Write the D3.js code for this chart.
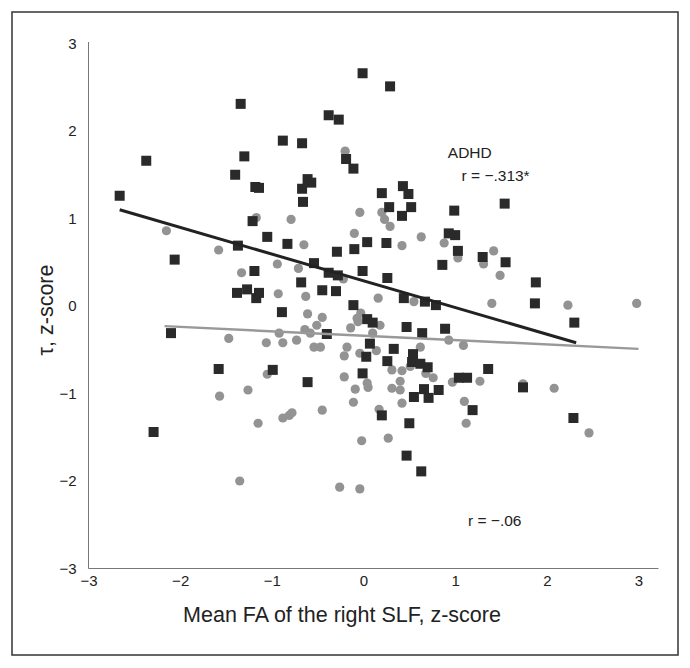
<!DOCTYPE html>
<html>
<head>
<meta charset="utf-8">
<script src="https://cdn.jsdelivr.net/npm/d3@7"></script>
<style>
  html, body { margin: 0; padding: 0; background: #fff; }
  svg text { font-family: Arial, "Liberation Sans", Helvetica, sans-serif; }
</style>
</head>
<body>
<svg id="chart" width="690" height="668"></svg>
<script>
// ADHD group (squares)
const adhdX = [-2.66,-2.37,-2.06,-2.10,-2.29,-1.58,-1.34,-1.30,-1.40,-1.18,-1.14,-1.21,-0.88,-0.67,-0.61,-0.57,-0.67,-0.66,-0.38,-0.27,
  -0.01,0.29,-0.19,-0.11,-1.37,-1.05,-0.83,-1.19,-0.54,-0.38,-0.28,-0.29,-0.10,0.04,-0.01,-1.38,-1.27,-1.14,-1.17,-0.68,
  -0.45,-0.30,-0.89,-0.99,-0.61,-0.40,-0.11,0.04,0.10,0.07,0.03,-0.01,0.20,0.43,0.49,0.28,0.52,0.42,0.99,1.54,
  0.25,0.93,1.00,1.03,0.86,1.30,1.55,0.26,1.88,1.87,2.30,0.44,0.67,0.79,0.47,0.64,0.89,0.33,0.26,0.54,
  0.53,0.62,0.70,1.04,1.13,1.36,1.74,0.66,0.82,0.55,0.71,0.20,0.50,1.19,2.29,0.47,0.63];
const adhdY = [1.26,1.66,0.53,-0.31,-1.44,-0.72,2.31,1.71,1.50,1.36,1.35,0.97,1.89,1.86,1.45,1.41,1.34,1.19,2.18,2.13,
  2.66,2.51,1.68,1.57,0.69,0.79,0.71,0.40,0.49,0.38,0.35,0.62,0.65,0.73,0.40,0.15,0.19,0.15,0.09,0.27,
  0.18,0.17,-0.07,-0.73,-0.87,-0.32,0.01,-0.15,-0.19,-0.43,-0.58,-0.77,1.29,1.37,1.28,1.13,1.13,1.03,1.09,1.17,
  0.72,0.83,0.81,0.63,0.47,0.56,0.50,0.32,0.27,0.03,-0.19,0.09,0.05,0.01,-0.24,-0.31,-0.26,-0.49,-0.63,-0.55,
  -0.64,-0.66,-0.70,-0.82,-0.82,-0.72,-0.93,-0.95,-0.96,-1.04,-1.05,-1.25,-1.34,-1.19,-1.28,-1.71,-1.89];

// Control group (circles)
const ctrlX = [-2.15,-1.58,-1.47,-1.57,-1.35,-1.17,-0.79,-0.65,-0.94,-0.71,-1.33,-0.20,-0.04,-0.10,-0.22,-0.93,-0.63,-0.61,-0.45,-0.51,
  -0.03,-0.07,-0.06,-0.14,-0.92,-0.64,-0.58,-1.06,-0.88,-0.73,-0.54,-0.47,-0.18,-0.21,-0.04,0.10,-1.05,-0.21,-0.09,0.04,
  0.05,-1.26,-0.11,-0.88,-0.81,-0.78,-0.45,-1.15,-0.02,-0.26,-0.04,0.20,0.23,0.29,0.42,0.63,0.88,1.03,1.31,1.42,
  1.49,0.16,0.55,1.40,2.23,2.98,0.18,1.74,2.08,2.46,0.14,0.62,0.93,1.09,0.31,0.42,0.40,0.31,0.40,0.42,
  0.17,0.68,0.76,0.97,1.27,1.10,1.12,0.27,0.51];
const ctrlY = [0.86,0.64,-0.37,-1.03,-2.00,1.01,0.99,0.70,0.48,0.43,0.38,1.77,1.07,0.83,0.31,0.14,0.11,-0.09,-0.13,-0.22,
  -0.08,-0.14,-0.18,-0.25,-0.31,-0.27,-0.31,-0.42,-0.42,-0.39,-0.47,-0.47,-0.47,-0.57,-0.54,-0.31,-0.78,-0.81,-0.95,-0.88,
  -0.93,-0.96,-1.10,-1.28,-1.25,-1.22,-1.19,-1.34,-1.54,-2.07,-2.09,1.07,0.99,0.91,0.69,0.79,0.72,0.55,0.48,0.63,
  0.35,0.09,0.05,0.03,0.01,0.03,-0.22,-0.89,-0.94,-1.45,-0.51,-0.47,-0.39,-0.45,-0.73,-0.74,-0.86,-0.94,-0.96,-1.11,
  -1.18,-0.77,-0.82,-0.87,-0.86,-1.09,-1.34,-1.51,-0.69];

// Trend lines (endpoints)
const adhdTrendX = [-2.66, 2.32];
const adhdTrendY = [1.10, -0.42];
const ctrlTrendX = [-2.17, 3.0];
const ctrlTrendY = [-0.23, -0.49];

const ticks = [-3, -2, -1, 0, 1, 2, 3];
const xTitle = "Mean FA of the right SLF, z-score";
const yTitle = "τ, z-score";
const labels = [
  {text: "ADHD", x: 0.92, y: 1.69},
  {text: "r = −.313*", x: 1.07, y: 1.43},
  {text: "r = −.06", x: 1.14, y: -2.51}
];

const svg = d3.select("#chart");

// outer frame
svg.append("rect").attr("x", 12).attr("y", 12).attr("width", 666).attr("height", 643)
  .attr("fill", "none").attr("stroke", "#333").attr("stroke-width", 1.5);

const x = d3.scaleLinear().domain([-3, 3]).range([88.5, 638.5]);
const y = d3.scaleLinear().domain([-3, 3]).range([568.5, 43.5]);
const fmt = d3.format("d");

// axes
const xAxis = d3.axisBottom(x).tickValues(ticks).tickFormat(fmt).tickSize(0).tickPadding(7);
const yAxis = d3.axisLeft(y).tickValues(ticks).tickFormat(fmt).tickSize(0).tickPadding(12);

const gx = svg.append("g").attr("transform", `translate(0,${y(-3)})`).call(xAxis);
gx.select(".domain").remove();
gx.selectAll("text").attr("font-size", 15).attr("fill", "#222");

const gy = svg.append("g").attr("transform", `translate(${x(-3)},0)`).call(yAxis);
gy.select(".domain").remove();
gy.selectAll("text").attr("font-size", 15).attr("fill", "#222");

svg.append("line").attr("x1", x(-3)).attr("x2", x(3) + 20).attr("y1", y(-3)).attr("y2", y(-3))
  .attr("stroke", "#777").attr("stroke-width", 1);
svg.append("line").attr("x1", x(-3)).attr("x2", x(-3)).attr("y1", y(-3)).attr("y2", y(3) - 1.5)
  .attr("stroke", "#777").attr("stroke-width", 1);

// circles (controls)
svg.append("g").selectAll("circle").data(ctrlX.map((d, i) => [d, ctrlY[i]])).join("circle")
  .attr("cx", d => x(d[0])).attr("cy", d => y(d[1])).attr("r", 4.6).attr("fill", "#939393");

// squares (ADHD)
const s = 10;
svg.append("g").selectAll("rect").data(adhdX.map((d, i) => [d, adhdY[i]])).join("rect")
  .attr("x", d => x(d[0]) - s / 2).attr("y", d => y(d[1]) - s / 2)
  .attr("width", s).attr("height", s).attr("fill", "#2a2a2a");

// trend lines
const line = d3.line().x(d => x(d[0])).y(d => y(d[1]));
svg.append("path").attr("d", line(ctrlTrendX.map((d, i) => [d, ctrlTrendY[i]])))
  .attr("stroke", "#999").attr("stroke-width", 2.5).attr("fill", "none");
svg.append("path").attr("d", line(adhdTrendX.map((d, i) => [d, adhdTrendY[i]])))
  .attr("stroke", "#222").attr("stroke-width", 3).attr("fill", "none");

// annotations
svg.append("g").selectAll("text").data(labels).join("text")
  .attr("x", d => x(d.x)).attr("y", d => y(d.y)).attr("font-size", 15.5).attr("fill", "#222")
  .text(d => d.text);

// axis titles
svg.append("text").attr("x", 342).attr("y", 622).attr("text-anchor", "middle")
  .attr("font-size", 21.5).attr("fill", "#222").text(xTitle);
svg.append("text").attr("transform", `translate(53,${y(0) + 4}) rotate(-90)`).attr("text-anchor", "middle")
  .attr("font-size", 21.5).attr("fill", "#222").text(yTitle);
</script>
</body>
</html>
